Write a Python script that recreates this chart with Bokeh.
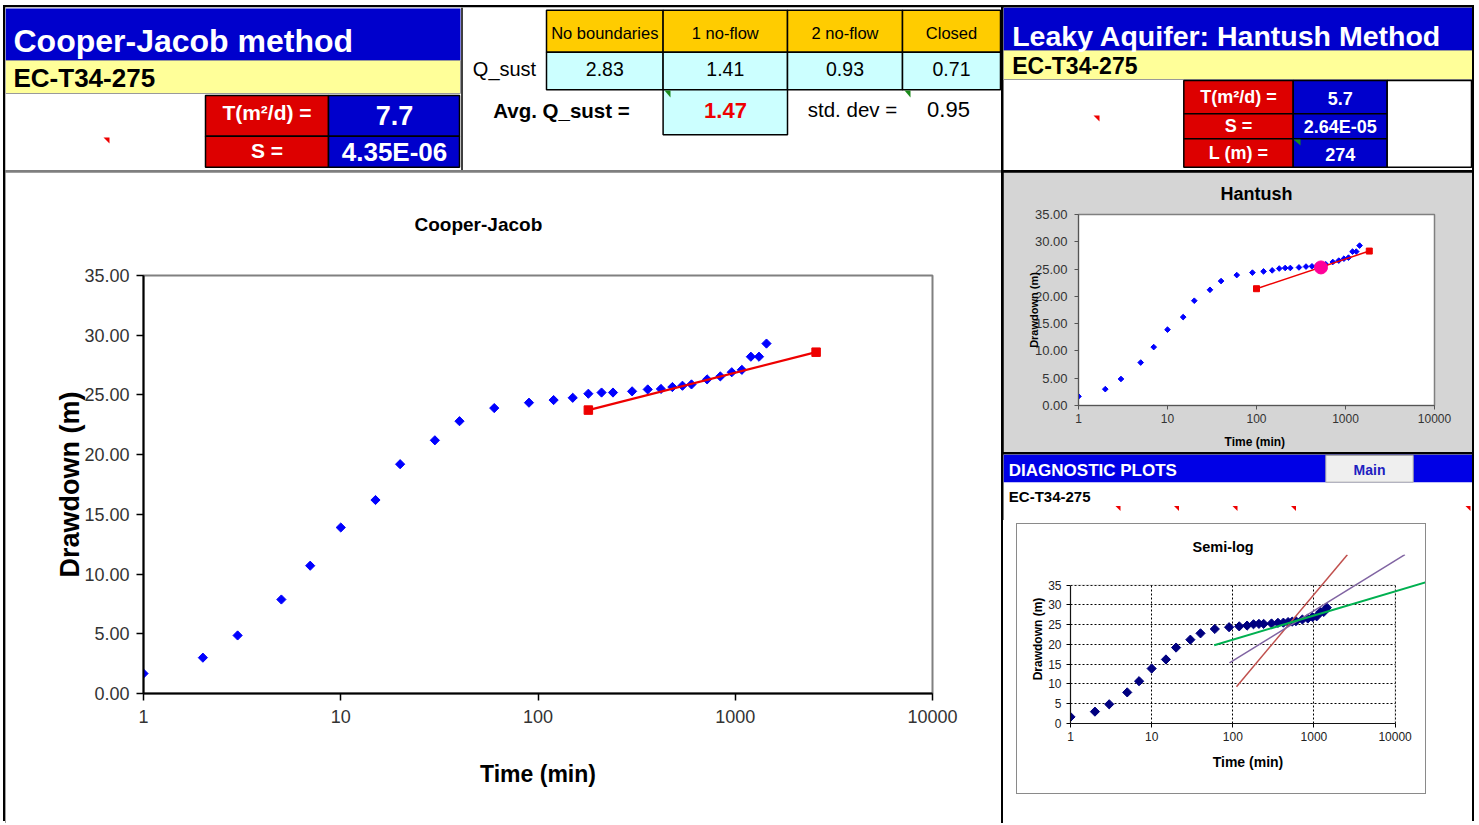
import numpy as np
from bokeh.plotting import figure
from bokeh.layouts import row, column
from bokeh.models import Range1d, FixedTicker, NumeralTickFormatter, BoxAnnotation
from bokeh.core.properties import value
from bokeh.embed import file_html
from bokeh.resources import INLINE

# ---------------- data ----------------
well_id = "EC-T34-275"

time_min = [1, 2, 3, 5, 7, 10, 15, 20, 30, 40, 60, 90, 120, 150, 180, 210, 240,
            300, 360, 420, 480, 540, 600, 720, 840, 960, 1080, 1200, 1320, 1440]
drawdown_m = [1.67, 3.00, 4.86, 7.87, 10.70, 13.90, 16.20, 19.20, 21.20, 22.80,
              23.90, 24.35, 24.57, 24.76, 25.10, 25.20, 25.20, 25.30, 25.46, 25.50,
              25.66, 25.77, 25.88, 26.30, 26.55, 26.90, 27.10, 28.20, 28.20, 29.30]

cj_fit_time = [180, 2570]
cj_fit_drawdown = [23.73, 28.58]

hantush_fit_time = [100, 1850]
hantush_fit_drawdown = [21.4, 28.3]
hantush_match_time = [530]
hantush_match_drawdown = [25.3]

semilog_red_time = [111, 2580]
semilog_red_drawdown = [9.3, 42.7]
semilog_purple_time = [91, 13200]
semilog_purple_drawdown = [15.35, 42.7]
semilog_green_time = [59, 37400]
semilog_green_drawdown = [19.8, 36.9]

time_ticks = [1, 10, 100, 1000, 10000]
drawdown_ticks = [0, 5, 10, 15, 20, 25, 30, 35]

q_cases = ["No boundaries", "1 no-flow", "2 no-flow", "Closed"]
q_sust = [2.83, 1.41, 0.93, 0.71]
avg_q_sust = 1.47
std_dev_q = 0.95

cj_T = 7.7
cj_S = "4.35E-06"
h_T = 5.7
h_S = "2.64E-05"
h_L = 274

# ---------------- styling helpers ----------------
SANS = "Liberation Sans, Arial, sans-serif"
BLUE = "#0000cc"
RED = "#dd0000"
YELLOW = "#ffff99"


def unalign(p):
    if "frame_align" in p.properties():
        p.frame_align = False
    return p


def canvas(w, h, xr, yr):
    p = figure(width=w, height=h, x_range=Range1d(*xr), y_range=Range1d(*yr),
               x_axis_type=None, y_axis_type=None, toolbar_location=None,
               output_backend="svg", min_border=0)
    p.outline_line_color = None
    p.background_fill_color = "white"
    p.border_fill_color = "white"
    return unalign(p)


def box(p, l, r, t, b, fill, line=None, lw=1.0):
    p.quad(left=[l], right=[r], top=[t], bottom=[b], fill_color=fill,
           line_color=line, line_width=lw)


def label(p, x, y, s, size, color="black", bold=False, font=SANS, align="left"):
    p.text(x=[x], y=[y], text=[s], text_font=value(font),
           text_font_size=f"{size}px", text_font_style="bold" if bold else "normal",
           text_color=color, text_align=align, text_baseline="middle")


def corner(p, xs, y, color, sx=6, sy=6):
    p.patches(xs=[[x - sx, x, x] for x in xs], ys=[[y, y, y + sy] for _ in xs],
              fill_color=color, line_color=None)


def wrap(p):
    return column(p, spacing=0)


def set_title(p, text, size, align, offset, vertical_align, standoff):
    p.title.text = text
    p.title.align = align
    p.title.offset = offset
    p.title.text_font = SANS
    p.title.text_font_size = f"{size}px"
    p.title.text_font_style = "bold"
    p.title.text_color = "black"
    p.title.vertical_align = vertical_align
    p.title.standoff = standoff


# ---------------- left header (page coords 5..1001 x 7..170) ----------------
lh = canvas(996, 163, (5, 1001), (170, 7))
box(lh, 5, 460, 8, 60, BLUE)
box(lh, 5, 460, 60, 93, YELLOW, "#9a9a9a", 1)
cj_rows = [95, 135.7, 166.7]
cj_names = ["T(m²/d) =", "S ="]
cj_vals = [f"{cj_T}", cj_S]
cj_sizes = [27, 26]
for i in range(2):
    box(lh, 205, 328, cj_rows[i], cj_rows[i + 1], RED, "black", 1.5)
    box(lh, 328, 459, cj_rows[i], cj_rows[i + 1], BLUE, "black", 1.5)
col_edges = [546, 662.6, 787, 902, 1000]
for i in range(len(q_cases)):
    l, r = col_edges[i], col_edges[i + 1]
    box(lh, l, r, 9.7, 51.7, "#ffcc00", "black", 1.5)
    box(lh, l, r, 51.7, 89.3, "#ccffff", "black", 1.5)
box(lh, 662.6, 787, 89.3, 134.3, "#ccffff", "black", 1.5)
lh.segment(x0=[461.5], y0=[7], x1=[461.5], y1=[170], line_color="black", line_width=1.5)

label(lh, 13, 40, "Cooper-Jacob method", 32, "white", True)
label(lh, 13, 77.5, well_id, 26, bold=True)
for i in range(2):
    mid = (cj_rows[i] + cj_rows[i + 1]) / 2
    label(lh, 266.5, mid - 3 + 2 * i, cj_names[i], 21, "white", True, align="center")
    label(lh, 394, mid, cj_vals[i], cj_sizes[i], "white", True, align="center")
corner(lh, [109], 137, "#ee0000")
for i, name in enumerate(q_cases):
    cx = (col_edges[i] + col_edges[i + 1]) / 2
    label(lh, cx, 32, name, 16.5, align="center")
    label(lh, cx, 68, f"{q_sust[i]:.2f}", 19.5, align="center")
label(lh, 504, 68, "Q_sust", 20, align="center")
label(lh, 561, 110, "Avg. Q_sust =", 20.5, bold=True, align="center")
label(lh, 725, 110, f"{avg_q_sust:.2f}", 22, "#ee0000", True, align="center")
label(lh, 852, 109, "std. dev =", 20.5, align="center")
label(lh, 948, 109, f"{std_dev_q:.2f}", 22, align="center")
corner(lh, [670, 910], 90, "#1a8a1a", 6, 7)

# ---------------- right header (page coords 1003..1472 x 7..170) ----------------
rh = canvas(469, 163, (1003, 1472), (170, 7))
box(rh, 1003, 1472, 7, 50, BLUE)
box(rh, 1003, 1472, 50, 79, YELLOW, "#9a9a9a", 1)
h_rows = [80, 113.3, 138.3, 166.7]
h_names = ["T(m²/d) =", "S =", "L (m) ="]
h_vals = [f"{h_T}", h_S, f"{h_L}"]
for i in range(3):
    box(rh, 1183.3, 1292.7, h_rows[i], h_rows[i + 1], RED, "black", 1.5)
    box(rh, 1292.7, 1386.7, h_rows[i], h_rows[i + 1], BLUE, "black", 1.5)
box(rh, 1386.7, 1471, 80, 166.7, "white", "black", 1.5)
label(rh, 1011.7, 35, "Leaky Aquifer: Hantush Method", 28.5, "white", True)
label(rh, 1011.7, 65.5, well_id, 23, bold=True)
for i in range(3):
    mid = (h_rows[i] + h_rows[i + 1]) / 2
    label(rh, 1238, mid, h_names[i], 18, "white", True, align="center")
    label(rh, 1339.7, mid + 1, h_vals[i], 18, "white", True, align="center")
corner(rh, [1099], 115, "#ee0000")
corner(rh, [1300], 139, "#1a8a1a", 7, 6)

# ---------------- main Cooper-Jacob chart (page 5..1001 x 172..823) ----------------
main = figure(width=996, height=651, x_axis_type="log",
              x_range=Range1d(1, 10000), y_range=Range1d(0, 35),
              toolbar_location=None, output_backend="svg",
              min_border_left=138, min_border_right=69,
              min_border_top=103, min_border_bottom=130)
unalign(main)
set_title(main, "Cooper-Jacob", 19, "left", 271, "top", 78)
main.background_fill_color = "white"
main.border_fill_color = "white"
main.outline_line_color = "#808080"
main.outline_line_width = 2
main.grid.visible = False
main.xaxis.ticker = FixedTicker(ticks=time_ticks, minor_ticks=[])
main.xaxis.formatter = NumeralTickFormatter(format="0")
main.yaxis.ticker = FixedTicker(ticks=drawdown_ticks, minor_ticks=[])
main.yaxis.formatter = NumeralTickFormatter(format="0.00")
for ax in (main.xaxis, main.yaxis):
    ax.axis_line_color = "black"
    ax.axis_line_width = 2
    ax.major_tick_line_color = "black"
    ax.major_tick_line_width = 1.5
    ax.major_tick_out = 7
    ax.major_tick_in = 0
    ax.minor_tick_line_color = None
    ax.major_label_text_font = SANS
    ax.major_label_text_color = "#333333"
    ax.axis_label_text_font = SANS
    ax.axis_label_text_font_style = "bold"
    ax.axis_label_text_color = "black"
main.yaxis.major_label_text_font_size = "18px"
main.xaxis.major_label_text_font_size = "18px"
main.yaxis.major_label_standoff = 7
main.xaxis.major_label_standoff = 9
main.xaxis.axis_label = "Time (min)"
main.xaxis.axis_label_text_font_size = "23px"
main.xaxis.axis_label_standoff = 35
main.yaxis.axis_label = "Drawdown (m)"
main.yaxis.axis_label_text_font_size = "27px"
main.yaxis.axis_label_standoff = -4
main.scatter(x=time_min, y=drawdown_m, marker="square", angle=np.pi / 4,
             size=6.5, color="#0000ff")
main.line(x=cj_fit_time, y=cj_fit_drawdown, line_color="#ee0000", line_width=2.2)
main.scatter(x=cj_fit_time, y=cj_fit_drawdown, marker="square", size=8.5,
             color="#ee0000")

# ---------------- Hantush chart (page 1003..1472 x 172..452) ----------------
han = figure(width=469, height=280, x_axis_type="log",
             x_range=Range1d(1, 10000), y_range=Range1d(0, 35),
             toolbar_location=None, output_backend="svg",
             min_border_left=75, min_border_right=38,
             min_border_top=42, min_border_bottom=47)
unalign(han)
set_title(han, "Hantush", 18, "center", 0, "top", 18)
han.background_fill_color = "white"
han.border_fill_color = "#d5d5d5"
han.outline_line_color = "#808080"
han.outline_line_width = 1.5
han.grid.visible = False
han.xaxis.ticker = FixedTicker(ticks=time_ticks, minor_ticks=[])
han.xaxis.formatter = NumeralTickFormatter(format="0")
han.yaxis.ticker = FixedTicker(ticks=drawdown_ticks, minor_ticks=[])
han.yaxis.formatter = NumeralTickFormatter(format="0.00")
for ax in (han.xaxis, han.yaxis):
    ax.axis_line_color = "#555555"
    ax.axis_line_width = 1
    ax.major_tick_line_color = "#555555"
    ax.major_tick_out = 4
    ax.major_tick_in = 0
    ax.minor_tick_line_color = None
    ax.major_label_text_font = SANS
    ax.major_label_text_color = "#333333"
    ax.axis_label_text_font = SANS
    ax.axis_label_text_font_style = "bold"
    ax.axis_label_text_color = "black"
han.yaxis.major_label_text_font_size = "13px"
han.xaxis.major_label_text_font_size = "12px"
han.yaxis.major_label_standoff = 7
han.xaxis.major_label_standoff = 4
han.xaxis.axis_label = "Time  (min)"
han.xaxis.axis_label_text_font_size = "12px"
han.xaxis.axis_label_standoff = 9
han.yaxis.axis_label = "Drawdown (m)"
han.yaxis.axis_label_text_font_size = "11px"
han.yaxis.axis_label_standoff = -8
han.scatter(x=time_min, y=drawdown_m, marker="square", angle=np.pi / 4,
            size=4, color="#0000ff")
han.line(x=hantush_fit_time, y=hantush_fit_drawdown, line_color="#ee0000", line_width=1.5)
han.scatter(x=hantush_fit_time, y=hantush_fit_drawdown, marker="square", size=6,
            color="#ee0000")
han.scatter(x=hantush_match_time, y=hantush_match_drawdown, marker="circle", size=13,
            color="#ff0099")

# ---------------- diagnostic header (page 1003..1472 x 454..520) ----------------
dh = canvas(469, 66, (1003, 1472), (520, 454))
box(dh, 1003, 1472, 454, 481.7, "#0000e6")
box(dh, 1325.3, 1412.7, 455, 481.7, "#efefef", "#a8a8a8", 1)
label(dh, 1008.3, 470, "DIAGNOSTIC PLOTS", 17, "white", True)
label(dh, 1369, 469, "Main", 14, "#2020c0", True, align="center")
label(dh, 1008.3, 496, well_id, 15, bold=True)
corner(dh, [1120, 1178.5, 1237, 1295.5, 1470], 505.5, "#ee0000", 5, 5)

# ---------------- semi-log chart (box page 1017..1425 x 524..793) ----------------
semi = figure(width=408, height=269, x_axis_type="log",
              x_range=Range1d(1, 23690), y_range=Range1d(0, 42.74),
              toolbar_location=None, output_backend="svg",
              min_border_left=53, min_border_right=0,
              min_border_top=30, min_border_bottom=70,
              margin=(4, 47, 30, 14),
              styles={"outline": "1px solid #8a8a8a"})
unalign(semi)
set_title(semi, "Semi-log", 14.5, "left", 122, "bottom", 0)
semi.background_fill_color = "white"
semi.border_fill_color = "white"
semi.outline_line_color = None
semi.xaxis.ticker = FixedTicker(ticks=time_ticks, minor_ticks=[])
semi.xaxis.formatter = NumeralTickFormatter(format="0")
semi.yaxis.ticker = FixedTicker(ticks=drawdown_ticks, minor_ticks=[])
semi.yaxis.formatter = NumeralTickFormatter(format="0")
semi.xaxis.bounds = (1, 10000)
semi.yaxis.bounds = (0, 35)
for ax in (semi.xaxis, semi.yaxis):
    ax.axis_line_color = "black"
    ax.axis_line_width = 1.2
    ax.major_tick_line_color = "black"
    ax.major_tick_out = 4
    ax.major_tick_in = 0
    ax.minor_tick_line_color = None
    ax.major_label_text_font = SANS
    ax.major_label_text_font_size = "12px"
    ax.major_label_text_color = "#222222"
    ax.axis_label_text_font = SANS
    ax.axis_label_text_font_style = "bold"
    ax.axis_label_text_color = "black"
semi.yaxis.major_label_standoff = 5
semi.xaxis.major_label_standoff = 4
semi.xaxis.axis_label = "Time (min)"
semi.xaxis.axis_label_text_font_size = "14px"
semi.xaxis.axis_label_standoff = 10
semi.yaxis.axis_label = "Drawdown (m)"
semi.yaxis.axis_label_text_font_size = "12px"
semi.yaxis.axis_label_standoff = 0
semi.xgrid.ticker = FixedTicker(ticks=time_ticks[1:], minor_ticks=[])
semi.ygrid.ticker = FixedTicker(ticks=drawdown_ticks[1:], minor_ticks=[])
for g in (semi.xgrid, semi.ygrid):
    g.grid_line_color = "black"
    g.grid_line_dash = "2 2"
    g.grid_line_width = 1
semi.add_layout(BoxAnnotation(left=1, right=10000, bottom=0, top=35, fill_alpha=0,
                              line_color="#808080", line_width=1))
if "cross_bounds" in semi.xgrid[0].properties():
    semi.xgrid.cross_bounds = (0, 35)
    semi.ygrid.cross_bounds = (1, 10000)
semi.scatter(x=time_min, y=drawdown_m, marker="square", angle=np.pi / 4,
             size=6.5, color="#000080")
semi.line(x=semilog_red_time, y=semilog_red_drawdown, line_color="#c0504d", line_width=1.5)
semi.line(x=semilog_purple_time, y=semilog_purple_drawdown, line_color="#8064a2", line_width=1.5)
semi.line(x=semilog_green_time, y=semilog_green_drawdown, line_color="#00b050", line_width=2)

semi_wrap = column(semi, width=469, height=303, styles={"background-color": "white"})

# ---------------- layout ----------------
left_col = column(wrap(lh), wrap(main), spacing=2, styles={"background-color": "#7f7f7f"})
diag_col = column(wrap(dh), semi_wrap, spacing=0)
right_col = column(wrap(rh), wrap(han), diag_col, spacing=2)
root = row(left_col, right_col, spacing=2, margin=(7, 0, 0, 5),
           styles={"background-color": "black",
                   "box-shadow": "-2px -2px 0 0 #000000, 2px -2px 0 0 #000000"})

open("out.html", "w").write(file_html(root, INLINE))
